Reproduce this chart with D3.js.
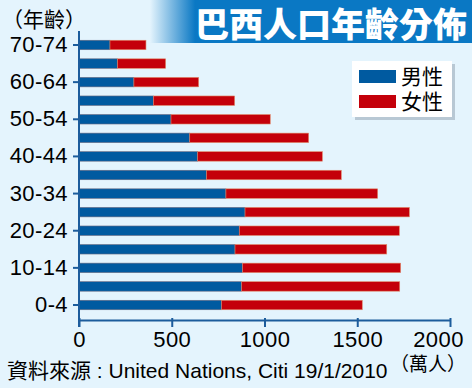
<!DOCTYPE html>
<html>
<head>
<meta charset="utf-8">
<script src="https://cdn.jsdelivr.net/npm/d3@7"></script>
<style>
  body { margin: 0; background: #e4f4fd; }
  svg { display: block; }
  text { font-family: "Liberation Sans", Arial, sans-serif; }
  .cjk { font-family: "Noto Sans CJK TC", "Noto Sans CJK SC", sans-serif; }
</style>
</head>
<body>
<script>
// age groups, bottom to top
var ages = ["0-4","5-9","10-14","15-19","20-24","25-29","30-34","35-39","40-44","45-49","50-54","55-59","60-64","65-69","70-74"];
var male   = [769, 877, 882, 841, 864, 895, 792, 688, 640, 597, 496, 401, 296, 208, 167];
var female = [758, 852, 852, 818, 863, 886, 818, 726, 672, 641, 535, 438, 349, 259, 194];
var xTicks = [0, 500, 1000, 1500, 2000];
var yLabels = ["70-74","60-64","50-54","40-44","30-34","20-24","10-14","0-4"];

var w = 472, h = 388;
var svg = d3.select("body").append("svg").attr("width", w).attr("height", h);

svg.append("rect").attr("width", w).attr("height", h).attr("fill", "#e4f4fd");

// title banner
var defs = svg.append("defs");
var grad = defs.append("linearGradient").attr("id", "bn").attr("x1", "0").attr("x2", "1");
grad.append("stop").attr("offset", "0").attr("stop-color", "#e4f4fd");
grad.append("stop").attr("offset", "0.14").attr("stop-color", "#0a78c4");
grad.append("stop").attr("offset", "1").attr("stop-color", "#0a78c4");
svg.append("rect").attr("x", 150).attr("y", 0).attr("width", 322).attr("height", 43).attr("fill", "url(#bn)");
svg.append("text").attr("class", "cjk").attr("x", 467).attr("y", 37)
  .attr("text-anchor", "end").attr("font-size", 34).attr("font-weight", 900)
  .attr("fill", "#fff").text("巴西人口年齡分佈");

var x = d3.scaleLinear().domain([0, 2000]).range([79, 450]);
var y = d3.scaleBand().domain(ages.slice().reverse()).range([35.7, 314.3])
  .paddingInner(0.49).paddingOuter(0.245);

var rows = svg.append("g").selectAll("g").data(ages).join("g");
rows.append("rect")
  .attr("x", x(0)).attr("y", function(d){ return y(d); })
  .attr("width", function(d, i){ return x(male[i]) - x(0); })
  .attr("height", y.bandwidth())
  .attr("fill", "#005aa0").attr("stroke", "#6a6a80").attr("stroke-width", 0.6);
rows.append("rect")
  .attr("x", function(d, i){ return x(male[i]); }).attr("y", function(d){ return y(d); })
  .attr("width", function(d, i){ return x(male[i] + female[i]) - x(male[i]); })
  .attr("height", y.bandwidth())
  .attr("fill", "#c4000a").attr("stroke", "#e08a6a").attr("stroke-width", 0.6);

// axes
var axCol = "#1c5c9c";
var xa = svg.append("g").attr("transform", "translate(0,320)")
  .call(d3.axisBottom(x).tickValues(xTicks).tickFormat(d3.format("d"))
    .tickSize(7).tickSizeOuter(0).tickPadding(4));
xa.select(".domain").attr("stroke", axCol).attr("stroke-width", 2);
xa.selectAll(".tick line").attr("stroke", axCol).attr("stroke-width", 2).attr("y1", -2);
xa.selectAll(".tick text").attr("font-size", 22).attr("fill", "#000")
  .attr("letter-spacing", 0.4)
  .attr("font-family", "Liberation Sans, Arial, sans-serif");
// last label sits a little left of its tick
xa.selectAll(".tick text").filter(function(d){ return d === 2000; }).attr("dx", -12);

var ya = svg.append("g").attr("transform", "translate(79,0)")
  .call(d3.axisLeft(y).tickValues(yLabels).tickSize(6).tickSizeOuter(0).tickPadding(5));
ya.select(".domain").attr("stroke", axCol).attr("stroke-width", 2).attr("d", "M0,31V327");
ya.selectAll(".tick line").attr("stroke", axCol).attr("stroke-width", 2);
ya.selectAll(".tick text").attr("font-size", 22).attr("fill", "#000")
  .attr("letter-spacing", 0.4)
  .attr("font-family", "Liberation Sans, Arial, sans-serif");

// legend
var lg = svg.append("g");
lg.append("rect").attr("x", 355).attr("y", 64).attr("width", 100).attr("height", 56).attr("fill", "#b8c8d4");
lg.append("rect").attr("x", 352).attr("y", 61).attr("width", 100).attr("height", 56).attr("fill", "#fff");
var legItems = [{t: "男性", c: "#005aa0"}, {t: "女性", c: "#c4000a"}];
legItems.forEach(function(d, i){
  lg.append("rect").attr("x", 359).attr("y", 70 + i * 25).attr("width", 37).attr("height", 13).attr("fill", d.c);
  lg.append("text").attr("class", "cjk").attr("x", 401).attr("y", 84 + i * 25)
    .attr("font-size", 21).attr("fill", "#000").text(d.t);
});

// texts
svg.append("text").attr("class", "cjk").attr("x", 2).attr("y", 27).attr("font-size", 21).text("（年齡）");
svg.append("text").attr("class", "cjk").attr("x", 390).attr("y", 371).attr("font-size", 19).text("（萬人）");
svg.append("text").attr("x", 7).attr("y", 378).attr("font-size", 21)
  .html('<tspan class="cjk">資料來源</tspan> : United Nations, Citi 19/1/2010');
</script>
</body>
</html>
